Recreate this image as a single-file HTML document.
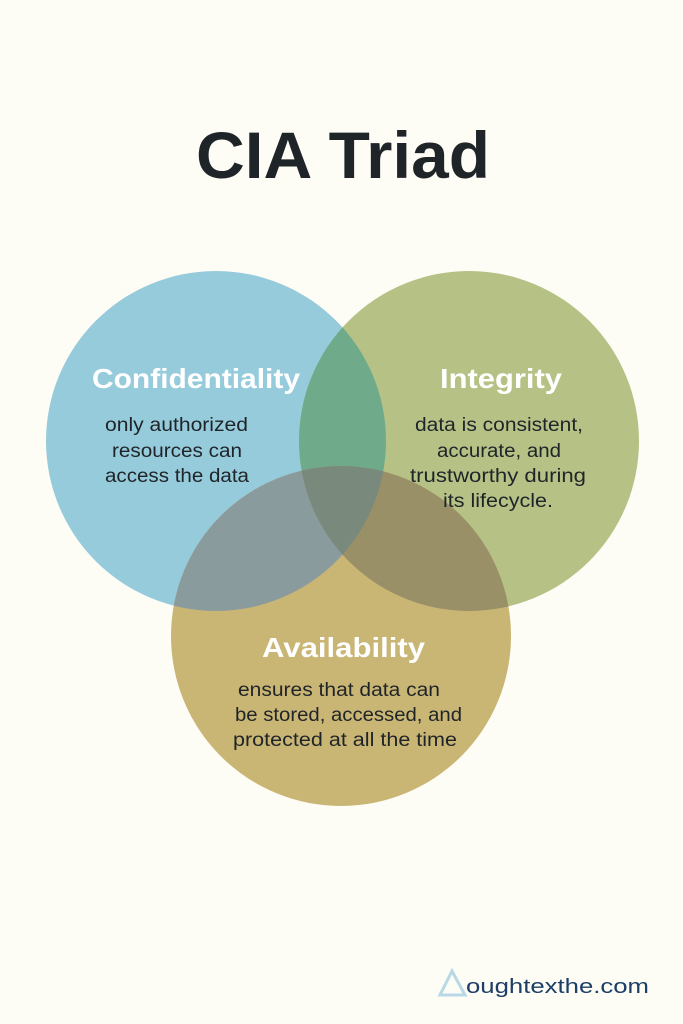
<!DOCTYPE html>
<html><head><style>
html,body{margin:0;padding:0;background:#fdfcf5;}
body{width:683px;height:1024px;overflow:hidden;position:relative;}
svg{position:absolute;left:0;top:0;}
</style></head><body>
<svg width="683" height="1024" viewBox="0 0 683 1024" font-family="'Liberation Sans', sans-serif">
<defs>
<clipPath id="cb"><circle cx="216" cy="441" r="170"/></clipPath>
<clipPath id="cg"><circle cx="469" cy="441" r="170"/></clipPath>
<clipPath id="cy"><circle cx="341" cy="636" r="170"/></clipPath>
</defs>
<rect width="683" height="1024" fill="#fdfcf5"/>
<text x="196" y="178" textLength="294" lengthAdjust="spacingAndGlyphs" font-size="66" font-weight="bold" fill="#1f2428">CIA Triad</text>
<circle cx="216" cy="441" r="170" fill="#96cbdc"/>
<circle cx="469" cy="441" r="170" fill="#b6c186"/>
<circle cx="341" cy="636" r="170" fill="#c9b574"/>
<g clip-path="url(#cb)"><circle cx="469" cy="441" r="170" fill="#6fab8a"/><circle cx="341" cy="636" r="170" fill="#8a9b9e"/></g>
<g clip-path="url(#cg)"><circle cx="341" cy="636" r="170" fill="#9a9068"/></g>
<g clip-path="url(#cb)"><g clip-path="url(#cg)"><circle cx="341" cy="636" r="170" fill="#798a7c"/></g></g>
<g fill="#fff" font-weight="bold" font-size="28" lengthAdjust="spacingAndGlyphs">
<text x="92" y="388" textLength="208" lengthAdjust="spacingAndGlyphs">Confidentiality</text>
<text x="440" y="388" textLength="122" lengthAdjust="spacingAndGlyphs">Integrity</text>
<text x="262" y="657" textLength="163" lengthAdjust="spacingAndGlyphs">Availability</text>
</g>
<g fill="#1f2428" font-size="19">
<text x="105" y="431" textLength="143" lengthAdjust="spacingAndGlyphs">only authorized</text>
<text x="112" y="457" textLength="130" lengthAdjust="spacingAndGlyphs">resources can</text>
<text x="105" y="482" textLength="144" lengthAdjust="spacingAndGlyphs">access the data</text>
<text x="415" y="431" textLength="168" lengthAdjust="spacingAndGlyphs">data is consistent,</text>
<text x="437" y="457" textLength="124" lengthAdjust="spacingAndGlyphs">accurate, and</text>
<text x="410" y="482" textLength="176" lengthAdjust="spacingAndGlyphs">trustworthy during</text>
<text x="443" y="507" textLength="110" lengthAdjust="spacingAndGlyphs">its lifecycle.</text>
<text x="238" y="696" textLength="202" lengthAdjust="spacingAndGlyphs">ensures that data can</text>
<text x="235" y="721" textLength="227" lengthAdjust="spacingAndGlyphs">be stored, accessed, and</text>
<text x="233" y="746" textLength="224" lengthAdjust="spacingAndGlyphs">protected at all the time</text>
</g>
<polygon points="452,971 440,995 465,995" fill="none" stroke="#b8d8e6" stroke-width="3"/>
<text x="466" y="993" font-size="20" fill="#1d3f66" textLength="183" lengthAdjust="spacingAndGlyphs">oughtexthe.com</text>
</svg>
</body></html>
